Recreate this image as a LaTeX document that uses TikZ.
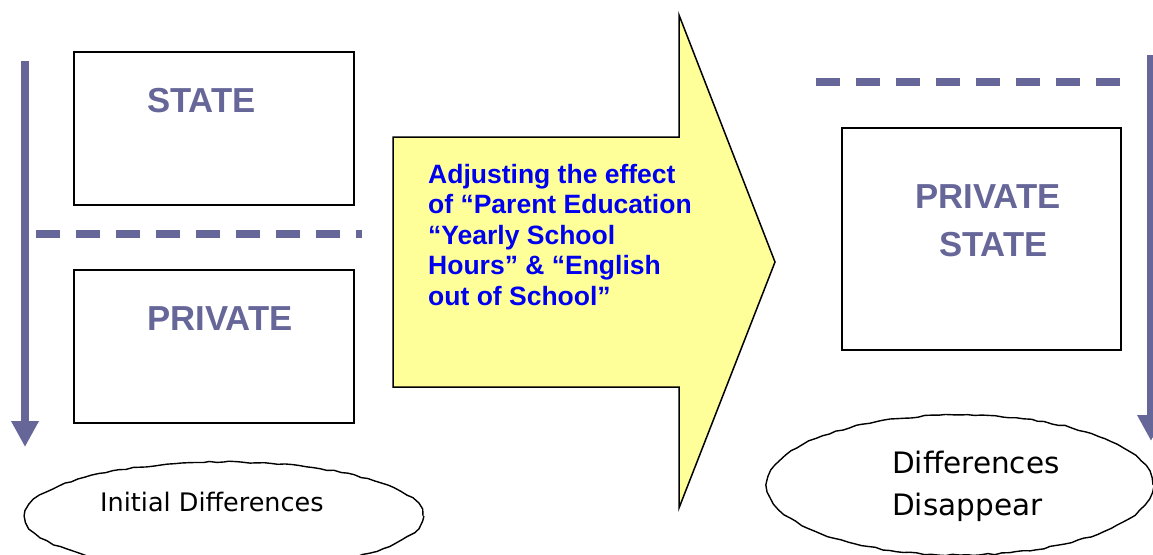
\documentclass[tikz,border=0pt]{standalone}
\usepackage{fontspec}
\setmainfont{Liberation Sans}
\newfontfamily\notefont{DejaVu Sans}
\usetikzlibrary{arrows.meta,shapes.geometric,decorations.pathmorphing}
\definecolor{slate}{HTML}{666699}
\definecolor{pale}{HTML}{FFFF99}
\definecolor{deepblue}{HTML}{0000F0}
\begin{document}
\begin{tikzpicture}[x=1pt,y=-1pt,
  groupbox/.style={draw=black,line width=1.5pt,inner sep=0pt,anchor=north west},
  grouplabel/.style={text=slate,font=\fontsize{34.7}{40}\selectfont\bfseries,inner sep=0pt,anchor=base west},
  divider/.style={draw=slate,line width=8pt,dash pattern=on 24pt off 16pt},
  trend/.style={draw=slate,line width=8pt,-{Triangle[width=26pt,length=26pt]}},
  cloud/.style={ellipse,draw=black,line width=1.4pt,inner sep=0pt,
    decorate,decoration={random steps,segment length=7pt,amplitude=0.8pt}},
  cloudtext/.style={inner sep=0pt,anchor=base west,align=left}]
\useasboundingbox (0,0) rectangle (1153,554);
\clip (0,0) rectangle (1153,554);

% left column: separated groups
\node[groupbox,minimum width=280pt,minimum height=153pt] (statebox) at (73,51) {};
\node[groupbox,minimum width=280pt,minimum height=153pt] (privbox) at (73,269) {};
\node[grouplabel] (statelbl) at (147,112) {STATE};
\node[grouplabel] (privlbl) at (147,330) {PRIVATE};
\coordinate (ldivA) at (36,234);
\coordinate (ldivB) at (362,234);
\draw[divider] (ldivA) -- (ldivB);
\coordinate (ltop) at (25,61);
\coordinate (lbot) at (25,447);
\draw[trend] (ltop) -- (lbot);

% adjustment arrow
\draw[fill=pale,draw=black,line width=1.5pt,line join=miter]
  (393,137) -- (679,137) -- (679,15) -- (775,262) -- (679,508) -- (679,387) -- (393,387) -- cycle;
\node[inner sep=0pt,anchor=north west,align=left,text=deepblue,
      font=\fontsize{26.5}{30.5}\selectfont\bfseries] (adjust) at (428,164)
  {Adjusting the effect\\of “Parent Education\\“Yearly School\\Hours” \& “English\\out of School”};

% right column: merged groups
\coordinate (rdivA) at (816,82);
\coordinate (rdivB) at (1123,82);
\draw[divider] (rdivA) -- (rdivB);
\node[groupbox,minimum width=279pt,minimum height=222pt] (mixbox) at (841,127) {};
\node[grouplabel] (mixlblA) at (915,208) {PRIVATE};
\node[grouplabel] (mixlblB) at (939,256) {STATE};
\coordinate (rtop) at (1151,55);
\coordinate (rbot) at (1151,441);
\draw[trend] (rtop) -- (rbot);

% outcome labels
\node[cloud,minimum width=398pt,minimum height=108pt] (initcloud) at (224,516) {};
\node[cloudtext,font=\notefont\fontsize{25.5}{30}\selectfont] (inittext) at (100,511) {Initial Differences};
\node[cloud,minimum width=386pt,minimum height=140pt] (endcloud) at (960,485) {};
\node[cloudtext,font=\notefont\fontsize{29.5}{42}\selectfont] (endtext) at (892,515) {Differences\\Disappear};
\end{tikzpicture}
\end{document}
